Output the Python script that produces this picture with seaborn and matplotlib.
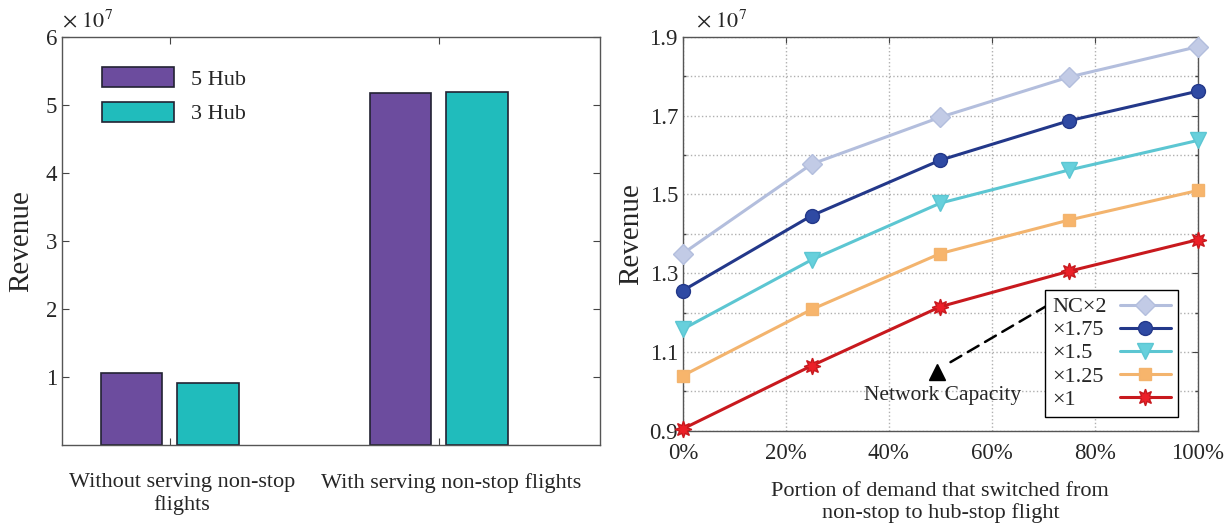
import numpy as np
import pandas as pd
import matplotlib
matplotlib.use("Agg")
import matplotlib.pyplot as plt
from matplotlib.ticker import MultipleLocator, FixedLocator
from matplotlib.transforms import ScaledTranslation
import seaborn as sns

# 左圖：有無直飛航班的營收 (單位 1e7)
scenarios = ['Without serving non-stop\nflights', 'With serving non-stop flights']
hubs = ['5 Hub', '3 Hub']
rev_5hub = [1.065, 5.17]
rev_3hub = [0.915, 5.19]

# 右圖：需求轉換比例 vs 營收 (單位 1e7)
portion = [0, 25, 50, 75, 100]
nc_labels = ['NC×2', '×1.75', '×1.5', '×1.25', '×1']
rev_nc200 = [1.350, 1.577, 1.696, 1.798, 1.875]
rev_nc175 = [1.256, 1.446, 1.587, 1.687, 1.762]
rev_nc150 = [1.158, 1.334, 1.478, 1.562, 1.637]
rev_nc125 = [1.040, 1.208, 1.350, 1.435, 1.510]
rev_nc100 = [0.905, 1.065, 1.215, 1.305, 1.385]

sns.set_theme(style="white")
plt.rcParams['font.family'] = ['Liberation Serif', 'DejaVu Serif']
plt.rcParams['mathtext.fontset'] = 'stix'
plt.rcParams['xtick.direction'] = 'in'
plt.rcParams['ytick.direction'] = 'in'

fig = plt.figure(figsize=(12.26, 5.26), dpi=100)
ax1 = fig.add_axes([0.0506, 0.154, 0.439, 0.776])
ax2 = fig.add_axes([0.557, 0.181, 0.42, 0.749])

# ---- 左圖 barplot ----
df_bar = pd.DataFrame({
    'scenario': scenarios * 2,
    'hub': [hubs[0]] * 2 + [hubs[1]] * 2,
    'revenue': rev_5hub + rev_3hub,
})
sns.barplot(ax=ax1, data=df_bar, x='scenario', y='revenue', hue='hub',
            order=scenarios, hue_order=hubs,
            palette=['#6c4c9e', '#20bcbc'], width=0.57, gap=0.2,
            edgecolor='#222233', linewidth=1.2, saturation=1, errorbar=None)
ax1.set_xlim(-0.4, 1.6)
ax1.set_ylim(0, 6)
ax1.yaxis.set_major_locator(FixedLocator([1, 2, 3, 4, 5, 6]))
ax1.tick_params(axis='y', labelsize=16.5, right=True, left=True, length=5, width=0.8, color='#444444')
ax1.tick_params(axis='x', labelsize=16, top=True, bottom=True, length=5, width=0.8,
                pad=20, color='#444444')
# 類別文字稍微往右偏 (與原圖一致)
shift = ScaledTranslation(0.12, 0, fig.dpi_scale_trans)
for t in ax1.get_xticklabels():
    t.set_linespacing(1.2)
    t.set_transform(t.get_transform() + shift)
ax1.set_xlabel('')
ax1.set_ylabel('Revenue', fontsize=21, labelpad=8)
for s in ax1.spines.values():
    s.set_color('#555555')
    s.set_linewidth(1.0)
ax1.text(0.0, 1.012, r'$\times\ 10^7$', transform=ax1.transAxes, fontsize=16,
         ha='left', va='bottom')
leg1 = ax1.legend(loc='upper left', bbox_to_anchor=(0.038, 0.975), frameon=False,
                  fontsize=16, handlelength=3.2, handleheight=1.0,
                  labelspacing=0.55, handletextpad=0.8)

# ---- 右圖 lineplot ----
series = [rev_nc200, rev_nc175, rev_nc150, rev_nc125, rev_nc100]
line_colors = ['#b3bedd', '#23388a', '#5cc6d2', '#f3b46e', '#c8191e']
face_colors = ['#c2cbe6', '#2f4aa3', '#67d0dc', '#f7b56c', '#ec2028']
markers = ['D', 'o', 'v', 's', (8, 1, 0)]
msizes = [10, 10, 12, 8, 12]

ax2.yaxis.set_minor_locator(MultipleLocator(0.1))
ax2.grid(True, which='both', axis='y', linestyle=':', color='#b0b0b0', linewidth=1.0)
ax2.grid(True, which='major', axis='x', linestyle=':', color='#b0b0b0', linewidth=1.0)
ax2.set_axisbelow(True)

for vals, lab, lc, fc, mk, ms in zip(series, nc_labels, line_colors, face_colors, markers, msizes):
    sns.lineplot(ax=ax2, x=portion, y=vals, label=lab, color=lc, linewidth=2.2,
                 marker=mk, markersize=ms, markerfacecolor=fc,
                 markeredgecolor=lc, markeredgewidth=1.0, clip_on=False, zorder=3)

ax2.set_xlim(0, 100)
ax2.set_ylim(0.9, 1.9)
ax2.set_xticks([0, 20, 40, 60, 80, 100])
ax2.set_xticklabels(['0%', '20%', '40%', '60%', '80%', '100%'])
ax2.set_yticks([0.9, 1.1, 1.3, 1.5, 1.7, 1.9])
ax2.set_yticklabels(['0.9', '1.1', '1.3', '1.5', '1.7', '1.9'])
ax2.tick_params(axis='both', which='major', labelsize=16.5, right=True, top=True,
                length=4, width=0.8, color='#444444')
ax2.tick_params(axis='x', pad=9)
ax2.tick_params(axis='y', which='minor', right=True, left=True, length=2.5, color='#444444')
ax2.set_xlabel('Portion of demand that switched from\nnon-stop to hub-stop flight',
               fontsize=16, labelpad=13, linespacing=1.12)
ax2.set_ylabel('Revenue', fontsize=21, labelpad=4)
for s in ax2.spines.values():
    s.set_color('#555555')
    s.set_linewidth(1.0)
ax2.text(0.025, 1.012, r'$\times\ 10^7$', transform=ax2.transAxes, fontsize=16,
         ha='left', va='bottom')

leg2 = ax2.legend(loc='lower right', bbox_to_anchor=(0.961, 0.036), borderaxespad=0,
                  markerfirst=False, fontsize=16, handlelength=2.3, handleheight=0.6,
                  labelspacing=0.15, borderpad=0.3, handletextpad=0.6, frameon=True,
                  fancybox=False, framealpha=1, edgecolor='black')
leg2.get_frame().set_linewidth(1.0)

# Network Capacity 標註
ax2.annotate('', xy=(50.5, 1.063), xytext=(71.3, 1.222),
             arrowprops=dict(arrowstyle='-', linestyle=(0, (5, 3)), lw=1.8, color='black'))
ax2.plot([49.3], [1.05], marker='^', markersize=11, color='black', zorder=4)
ax2.text(50.5, 0.99, 'Network Capacity', fontsize=15.5, ha='center', va='center')

# 圖例文字靠左對齊，線段樣本靠右
fig.canvas.draw()
renderer = fig.canvas.get_renderer()
for col in leg2._legend_handle_box.get_children():
    rows = col.get_children()
    w = max(r.get_bbox(renderer).width for r in rows)
    col.align = 'left'
    for r in rows:
        r.mode = 'expand'
        r.width = w

fig.savefig('out.png', dpi=100)
